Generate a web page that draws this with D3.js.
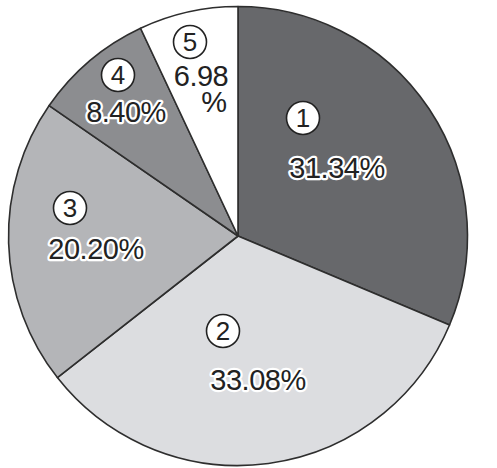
<!DOCTYPE html>
<html>
<head>
<meta charset="utf-8">
<script src="https://cdn.jsdelivr.net/npm/d3@7/dist/d3.min.js"></script>
<style>
  html, body { margin: 0; padding: 0; background: #fff; }
  svg { display: block; }
</style>
</head>
<body>
<svg id="chart" width="497" height="468"></svg>
<script>
// ---- data ----
const categories = ["1", "2", "3", "4", "5"];
const values = [31.34, 33.08, 20.20, 8.40, 6.98];
const valueLabels = ["31.34%", "33.08%", "20.20%", "8.40%", "6.98\n%"];

// ---- styles / layout ----
const colors = ["#67686b", "#dcdde0", "#b4b5b8", "#8c8d90", "#ffffff"];
// label placement offsets from pie centre: [circle dx, dy, text dx, dy]
const labelLayout = [
  [65, -118, 99, -58],
  [-15, 95, 20, 154],
  [-168, -28, -142, 23],
  [-120, -161, -112, -114],
  [-48, -194, -37, -150]
];

const cx = 238, cy = 236, R = 229.5;
const svg = d3.select("#chart");
const g = svg.append("g").attr("transform", `translate(${cx},${cy})`);

const pie = d3.pie().sort(null).value(d => d.value).startAngle(0).endAngle(2 * Math.PI);
const data = categories.map((c, i) => ({ cat: c, value: values[i], label: valueLabels[i], i }));
const arcs = pie(data);
const arc = d3.arc().innerRadius(0).outerRadius(R);

g.selectAll("path.slice")
  .data(arcs)
  .join("path")
  .attr("class", "slice")
  .attr("d", arc)
  .attr("fill", d => colors[d.data.i])
  .attr("stroke", "#2e2e2e")
  .attr("stroke-width", 1.6)
  .attr("stroke-linejoin", "round");

const fontFamily = "'Liberation Sans', Arial, sans-serif";

const labels = g.selectAll("g.label")
  .data(arcs)
  .join("g")
  .attr("class", "label");

// circled numbers
labels.append("circle")
  .attr("cx", d => labelLayout[d.data.i][0])
  .attr("cy", d => labelLayout[d.data.i][1])
  .attr("r", 16.5)
  .attr("fill", "#fff")
  .attr("stroke", "#222")
  .attr("stroke-width", 1.6);

labels.append("text")
  .attr("x", d => labelLayout[d.data.i][0])
  .attr("y", d => labelLayout[d.data.i][1])
  .attr("dy", "0.36em")
  .attr("text-anchor", "middle")
  .attr("font-family", fontFamily)
  .attr("font-size", 26)
  .attr("fill", "#222")
  .text(d => d.data.cat);

// percentage labels
labels.each(function(d) {
  const lines = d.data.label.split("\n");
  const lay = labelLayout[d.data.i];
  const t = d3.select(this).append("text")
    .attr("text-anchor", "middle")
    .attr("font-family", fontFamily)
    .attr("font-size", 29)
    .attr("letter-spacing", -0.5)
    .attr("fill", "#222")
    .attr("stroke", "#fff")
    .attr("stroke-width", 4.5)
    .attr("stroke-linejoin", "round")
    .attr("paint-order", "stroke");
  lines.forEach((ln, k) => {
    t.append("tspan")
      .attr("x", lay[2] + (k > 0 ? 13 : 0))
      .attr("y", lay[3] + k * 26)
      .text(ln);
  });
});
</script>
</body>
</html>
